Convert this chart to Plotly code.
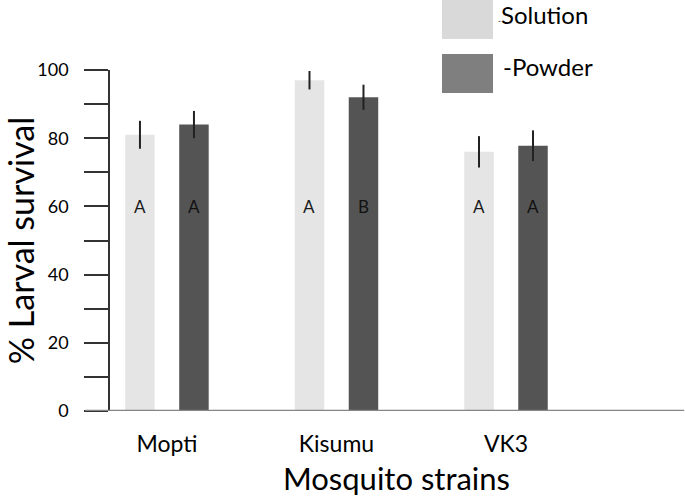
import plotly.graph_objects as go

strains = ["Mopti", "Kisumu", "VK3"]
solution = [81, 97, 76]
solution_err = [4.1, 2.7, 4.6]
powder = [84, 92, 77.8]
powder_err = [4.0, 3.7, 4.5]
solution_letters = ["A", "A", "A"]
powder_letters = ["A", "B", "A"]
letter_y = 60
y_ticks = [0, 20, 40, 60, 80, 100]

FONT = "Lato"
C_SOL = "#e5e5e5"
C_POW = "#545454"
C_SOL_LEG = "#d9d9d9"
C_POW_LEG = "#7f7f7f"

fig = go.Figure()
fig.add_trace(go.Bar(
    x=strains, y=solution, name="Solution", marker=dict(color=C_SOL, line=dict(width=0)),
    error_y=dict(type="data", array=solution_err, color="#222222", thickness=2, width=0),
    cliponaxis=False, showlegend=False,
))
fig.add_trace(go.Bar(
    x=strains, y=powder, name="Powder", marker=dict(color=C_POW, line=dict(width=0)),
    error_y=dict(type="data", array=powder_err, color="#222222", thickness=2, width=0),
    cliponaxis=False, showlegend=False,
))

# significance letters
for i, s in enumerate(strains):
    fig.add_annotation(x=s, y=letter_y, text=solution_letters[i], showarrow=False,
                       xshift=-27, font=dict(family=FONT, size=17, color="#1a1a1a"))
    fig.add_annotation(x=s, y=letter_y, text=powder_letters[i], showarrow=False,
                       xshift=27, font=dict(family=FONT, size=17, color="#111111"))

# x axis baseline extending left to the tick ends
fig.add_shape(type="line", xref="paper", yref="y", x0=-0.0436, x1=1.002, y0=0, y1=0,
              line=dict(color="#858585", width=2.5), layer="above")

# custom legend (large swatches)
W, H = 573.0, 341.5
def px(xp):
    return (xp - 110) / W
def py(yp):
    return (411.5 - yp) / H

fig.add_shape(type="rect", xref="paper", yref="paper", x0=px(442), x1=px(493), y0=py(39), y1=py(0),
              fillcolor=C_SOL_LEG, line=dict(width=0), layer="above")
fig.add_shape(type="rect", xref="paper", yref="paper", x0=px(442), x1=px(493), y0=py(93), y1=py(54),
              fillcolor=C_POW_LEG, line=dict(width=0), layer="above")
fig.add_annotation(xref="paper", yref="paper", x=px(496), y=py(14), xanchor="left", yanchor="middle",
                   text="<span style='font-size:8px'>-</span>Solution", showarrow=False,
                   font=dict(family=FONT, size=24, color="#000000"))
fig.add_annotation(xref="paper", yref="paper", x=px(501), y=py(66), xanchor="left", yanchor="middle",
                   text="-Powder", showarrow=False,
                   font=dict(family=FONT, size=24, color="#000000"))

fig.update_layout(
    width=685, height=497,
    margin=dict(l=110, r=2, t=70, b=86, pad=0),
    paper_bgcolor="white", plot_bgcolor="white",
    barmode="group", bargap=0.363, bargroupgap=0.454,
    font=dict(family=FONT, color="#000000"),
    xaxis=dict(
        type="category", range=[-0.336, 3.044],
        showline=False, showgrid=False, zeroline=False, ticks="",
        tickfont=dict(family=FONT, size=23, color="#000000"),
        ticklabelstandoff=17,
        title=dict(text="Mosquito strains", font=dict(family=FONT, size=31, color="#000000"), standoff=12),
    ),
    yaxis=dict(
        range=[0, 100], tickvals=y_ticks, showgrid=False, zeroline=False,
        showline=True, linecolor="#333333", linewidth=1.5,
        ticks="outside", ticklen=24, tickwidth=1.5, tickcolor="#333333",
        minor=dict(dtick=10, ticks="outside", ticklen=24, tickwidth=1.5, tickcolor="#333333"),
        tickfont=dict(family=FONT, size=18, color="#000000"),
        ticklabelstandoff=12,
        title=dict(text="% Larval survival", font=dict(family=FONT, size=34, color="#000000"), standoff=1),
    ),
)

fig.write_html("out.html", config={"displayModeBar": False},
               post_script="document.body.style.margin='0';document.body.style.padding='0';")
